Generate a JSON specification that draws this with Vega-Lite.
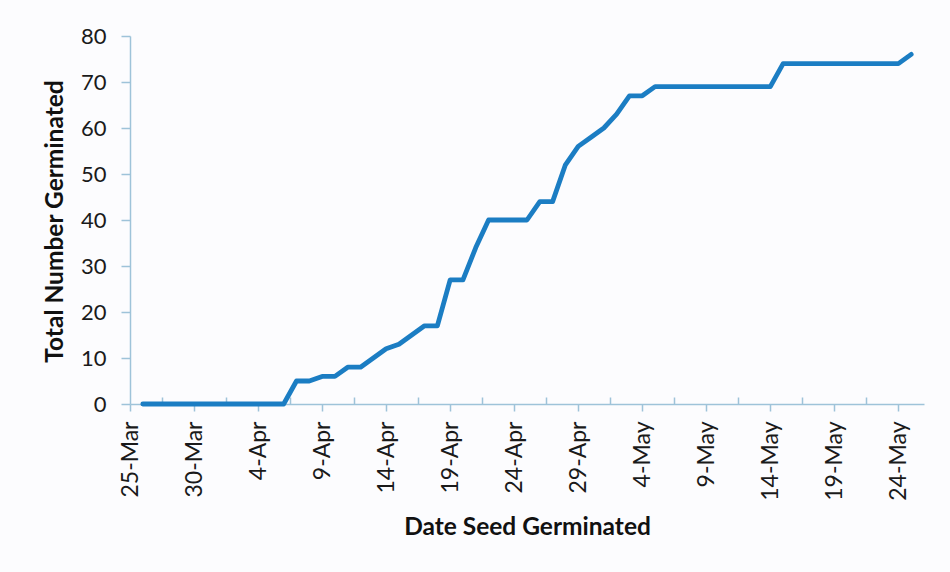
{
  "$schema": "https://vega.github.io/schema/vega-lite/v6.json",
  "width": 794,
  "height": 368,
  "autosize": {"type": "none"},
  "padding": {"left": 130, "top": 36, "right": 26, "bottom": 168},
  "background": "#fcfcfe",
  "config": {"view": {"stroke": null}, "font": "Lato"},
  "data": {"values": [
    {"date": "2013-03-26", "count": 0},
    {"date": "2013-03-27", "count": 0},
    {"date": "2013-03-28", "count": 0},
    {"date": "2013-03-29", "count": 0},
    {"date": "2013-03-30", "count": 0},
    {"date": "2013-03-31", "count": 0},
    {"date": "2013-04-01", "count": 0},
    {"date": "2013-04-02", "count": 0},
    {"date": "2013-04-03", "count": 0},
    {"date": "2013-04-04", "count": 0},
    {"date": "2013-04-05", "count": 0},
    {"date": "2013-04-06", "count": 0},
    {"date": "2013-04-07", "count": 5},
    {"date": "2013-04-08", "count": 5},
    {"date": "2013-04-09", "count": 6},
    {"date": "2013-04-10", "count": 6},
    {"date": "2013-04-11", "count": 8},
    {"date": "2013-04-12", "count": 8},
    {"date": "2013-04-13", "count": 10},
    {"date": "2013-04-14", "count": 12},
    {"date": "2013-04-15", "count": 13},
    {"date": "2013-04-16", "count": 15},
    {"date": "2013-04-17", "count": 17},
    {"date": "2013-04-18", "count": 17},
    {"date": "2013-04-19", "count": 27},
    {"date": "2013-04-20", "count": 27},
    {"date": "2013-04-21", "count": 34},
    {"date": "2013-04-22", "count": 40},
    {"date": "2013-04-23", "count": 40},
    {"date": "2013-04-24", "count": 40},
    {"date": "2013-04-25", "count": 40},
    {"date": "2013-04-26", "count": 44},
    {"date": "2013-04-27", "count": 44},
    {"date": "2013-04-28", "count": 52},
    {"date": "2013-04-29", "count": 56},
    {"date": "2013-04-30", "count": 58},
    {"date": "2013-05-01", "count": 60},
    {"date": "2013-05-02", "count": 63},
    {"date": "2013-05-03", "count": 67},
    {"date": "2013-05-04", "count": 67},
    {"date": "2013-05-05", "count": 69},
    {"date": "2013-05-06", "count": 69},
    {"date": "2013-05-07", "count": 69},
    {"date": "2013-05-08", "count": 69},
    {"date": "2013-05-09", "count": 69},
    {"date": "2013-05-10", "count": 69},
    {"date": "2013-05-11", "count": 69},
    {"date": "2013-05-12", "count": 69},
    {"date": "2013-05-13", "count": 69},
    {"date": "2013-05-14", "count": 69},
    {"date": "2013-05-15", "count": 74},
    {"date": "2013-05-16", "count": 74},
    {"date": "2013-05-17", "count": 74},
    {"date": "2013-05-18", "count": 74},
    {"date": "2013-05-19", "count": 74},
    {"date": "2013-05-20", "count": 74},
    {"date": "2013-05-21", "count": 74},
    {"date": "2013-05-22", "count": 74},
    {"date": "2013-05-23", "count": 74},
    {"date": "2013-05-24", "count": 74},
    {"date": "2013-05-25", "count": 76}
  ]},
  "layer": [
    {
      "mark": {"type": "line", "opacity": 0},
      "encoding": {
        "x": {
          "field": "date", "type": "temporal",
          "scale": {"type": "utc", "domain": [
            {"year": 2013, "month": "Mar", "date": 25, "utc": true},
            {"year": 2013, "month": "May", "date": 26, "utc": true}
          ]},
          "axis": {
            "orient": "bottom",
            "values": [
              {"year": 2013, "month": "Mar", "date": 27, "hours": 12, "utc": true},
              {"year": 2013, "month": "Apr", "date": 1, "hours": 12, "utc": true},
              {"year": 2013, "month": "Apr", "date": 6, "hours": 12, "utc": true},
              {"year": 2013, "month": "Apr", "date": 11, "hours": 12, "utc": true},
              {"year": 2013, "month": "Apr", "date": 16, "hours": 12, "utc": true},
              {"year": 2013, "month": "Apr", "date": 21, "hours": 12, "utc": true},
              {"year": 2013, "month": "Apr", "date": 26, "hours": 12, "utc": true},
              {"year": 2013, "month": "May", "date": 1, "hours": 12, "utc": true},
              {"year": 2013, "month": "May", "date": 6, "hours": 12, "utc": true},
              {"year": 2013, "month": "May", "date": 11, "hours": 12, "utc": true},
              {"year": 2013, "month": "May", "date": 16, "hours": 12, "utc": true},
              {"year": 2013, "month": "May", "date": 21, "hours": 12, "utc": true}
            ],
            "labels": false, "domain": false, "grid": false, "title": null,
            "tickSize": -7, "tickColor": "#9ec3d9", "tickWidth": 1.5
          }
        }
      }
    },
    {
      "mark": {"type": "line", "color": "#1b7dc3", "strokeWidth": 4.8, "strokeCap": "round", "strokeJoin": "round"},
      "encoding": {
        "x": {
          "field": "date", "type": "temporal",
          "axis": {
            "orient": "bottom",
            "values": [
              {"year": 2013, "month": "Mar", "date": 25, "utc": true},
              {"year": 2013, "month": "Mar", "date": 30, "utc": true},
              {"year": 2013, "month": "Apr", "date": 4, "utc": true},
              {"year": 2013, "month": "Apr", "date": 9, "utc": true},
              {"year": 2013, "month": "Apr", "date": 14, "utc": true},
              {"year": 2013, "month": "Apr", "date": 19, "utc": true},
              {"year": 2013, "month": "Apr", "date": 24, "utc": true},
              {"year": 2013, "month": "Apr", "date": 29, "utc": true},
              {"year": 2013, "month": "May", "date": 4, "utc": true},
              {"year": 2013, "month": "May", "date": 9, "utc": true},
              {"year": 2013, "month": "May", "date": 14, "utc": true},
              {"year": 2013, "month": "May", "date": 19, "utc": true},
              {"year": 2013, "month": "May", "date": 24, "utc": true}
            ],
            "labelExpr": "utcFormat(datum.value, '%-d-%b')",
            "labelAngle": -90, "labelAlign": "right", "labelBaseline": "middle",
            "labelFontSize": 23, "labelColor": "#1a1a1a", "labelPadding": 10,
            "labelOverlap": false, "labelFlush": false,
            "tickSize": 7, "tickColor": "#9ec3d9", "tickWidth": 1.5,
            "domainColor": "#9ec3d9", "domainWidth": 1.5, "grid": false,
            "title": "Date Seed Germinated", "titleFontSize": 24.5, "titleFontWeight": "bold",
            "titleColor": "#111111", "titleY": 123, "titleBaseline": "middle"
          }
        },
        "y": {
          "field": "count", "type": "quantitative",
          "scale": {"domain": [0, 80]},
          "axis": {
            "values": [0, 10, 20, 30, 40, 50, 60, 70, 80],
            "labelFontSize": 22, "labelColor": "#1a1a1a", "labelPadding": 15,
            "tickSize": 9, "tickColor": "#9ec3d9", "tickWidth": 1.5,
            "domainColor": "#9ec3d9", "domainWidth": 1.5, "grid": false,
            "title": "Total Number Germinated", "titleFontSize": 24.5, "titleFontWeight": "bold",
            "titleColor": "#111111", "titleX": -75, "titleY": 185, "titleAngle": -90,
            "titleAlign": "center", "titleBaseline": "middle"
          }
        }
      }
    }
  ],
  "resolve": {"axis": {"x": "independent"}}
}
